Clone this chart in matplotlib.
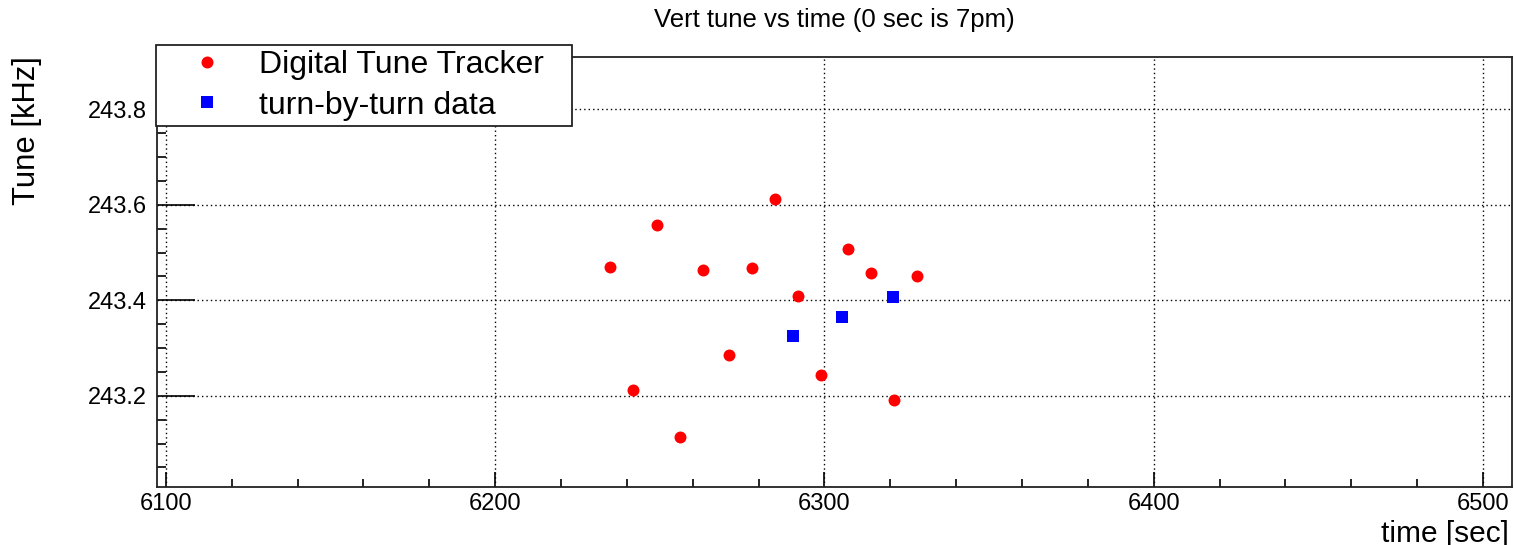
import matplotlib
matplotlib.use("Agg")
import matplotlib.pyplot as plt
from matplotlib.ticker import MultipleLocator, FixedLocator

plt.rcParams['font.family'] = ['Liberation Sans', 'DejaVu Sans']

# Data
dtt_time = [6235, 6242, 6249, 6256, 6263, 6271, 6278, 6285, 6292, 6299, 6307, 6314, 6321, 6328]
dtt_tune = [243.470, 243.213, 243.557, 243.113, 243.464, 243.285, 243.467, 243.612,
            243.409, 243.243, 243.508, 243.457, 243.192, 243.451]
tbt_time = [6290.5, 6305.4, 6320.7]
tbt_tune = [243.326, 243.365, 243.407]

x_ticks = [6100, 6200, 6300, 6400, 6500]
y_ticks = [243.2, 243.4, 243.6, 243.8]

W, H = 1516, 545
fig = plt.figure(figsize=(W / 100, H / 100), dpi=100)
L, R, T, B = 157, 1512, 56.7, 487
ax = fig.add_axes([L / W, 1 - B / H, (R - L) / W, (B - T) / H])

ax.set_xlim(6097.3, 6508.8)
ax.set_ylim(243.009, 243.91)

ax.plot(dtt_time, dtt_tune, linestyle='none', marker='o', markersize=8.6,
        color='#ff0000', markeredgewidth=0, label='Digital Tune Tracker', zorder=3)
ax.plot(tbt_time, tbt_tune, linestyle='none', marker='s', markersize=8.2,
        color='#0000ff', markeredgewidth=0, label='turn-by-turn data', zorder=3)

ax.xaxis.set_major_locator(FixedLocator(x_ticks))
ax.xaxis.set_minor_locator(MultipleLocator(20))
ax.yaxis.set_major_locator(FixedLocator(y_ticks))
ax.yaxis.set_minor_locator(MultipleLocator(0.05))
ax.set_xticklabels([str(v) for v in x_ticks])
ax.set_yticklabels([f"{v:.1f}" for v in y_ticks])

ax.tick_params(axis='both', which='both', direction='in', top=False, right=False,
               color='black', width=1.2, labelsize=17)
ax.tick_params(axis='y', which='major', length=27.4, pad=7)
ax.tick_params(axis='y', which='minor', length=6.5)
ax.tick_params(axis='x', which='major', length=10.8, pad=4)
ax.tick_params(axis='x', which='minor', length=5.5)

ax.grid(True, which='major', color='black', linestyle=(0, (1, 2.2)), linewidth=1.0)
for s in ax.spines.values():
    s.set_linewidth(1.3)
    s.set_color('#222222')

leg = ax.legend(loc='upper left', bbox_to_anchor=(156 / W, 1 - 44.7 / H, 416 / W, 0.0),
                bbox_transform=fig.transFigure, mode='expand', fontsize=23,
                frameon=True, fancybox=False, framealpha=1, edgecolor='#222222',
                borderpad=0.17, labelspacing=0.33, handletextpad=0.2, handlelength=2.85,
                borderaxespad=0, markerscale=1.0)
leg.get_frame().set_linewidth(1.3)
leg.set_zorder(10)

fig.text(834 / W, 1 - 20 / H, 'Vert tune vs time (0 sec is 7pm)', ha='center', va='center',
         fontsize=18.5)
fig.text(27 / W, 1 - 56 / H, 'Tune [kHz]', rotation=90, ha='center', va='top', fontsize=22.3)
fig.text(1509 / W, 1 - 520 / H, 'time [sec]', ha='right', va='top', fontsize=21.5)

fig.savefig('out.png', dpi=100)
